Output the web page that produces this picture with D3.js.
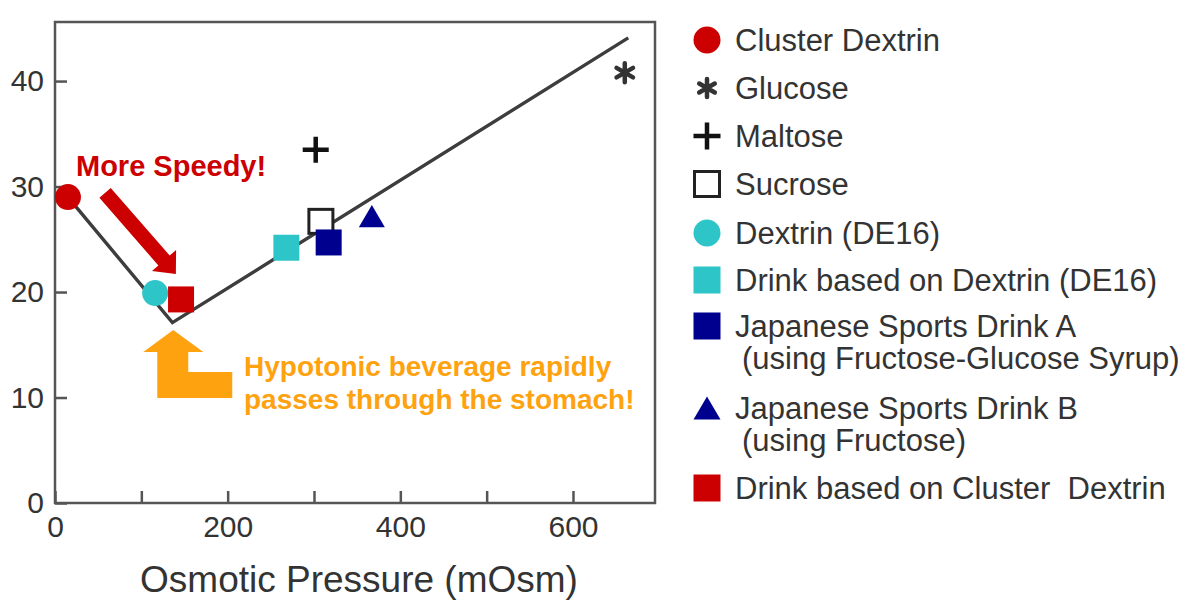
<!DOCTYPE html>
<html lang="en">
<head>
    <meta charset="UTF-8">
    <title>Gastric Emptying vs Osmotic Pressure</title>
    <script src="https://d3js.org/d3.v7.min.js"></script>
    <style>
        body {
            margin: 0;
            background: #fff;
            font-family: "Liberation Sans", Arial, sans-serif;
        }
        .tick text {
            fill: #333;
        }
        .tick line {
            stroke: #555;
            stroke-width: 2.5;
        }
        .legend text {
            white-space: pre;
        }
    </style>
</head>
<body>
    <div id="chart"></div>

    <script>
        // values
        const substances = ["Cluster Dextrin", "Glucose", "Maltose", "Sucrose", "Dextrin (DE16)",
            "Drink based on Dextrin (DE16)", "Japanese Sports Drink A", "Japanese Sports Drink B",
            "Drink based on Cluster  Dextrin"];
        const osmoticPressure = [15, 660, 302, 308, 116, 268, 317, 367, 146];
        const emptyingValue = [29.0, 40.8, 33.5, 26.7, 19.9, 24.2, 24.7, 27.2, 19.3];
        const legendLabels = [["Cluster Dextrin"], ["Glucose"], ["Maltose"], ["Sucrose"], ["Dextrin (DE16)"],
            ["Drink based on Dextrin (DE16)"],
            ["Japanese Sports Drink A", "(using Fructose-Glucose Syrup)"],
            ["Japanese Sports Drink B", "(using Fructose)"],
            ["Drink based on Cluster  Dextrin"]];

        // trend line (V shape)
        const trendX = [15, 136, 664];
        const trendY = [29.0, 17.1, 44.1];

        const xTicks = [0, 100, 200, 300, 400, 500, 600];
        const yTicks = [0, 10, 20, 30, 40];

        const red = "#cc0000", cyan = "#2ec5c8", navy = "#00008f", orange = "#ffa20f";
        const markerStyle = {
            "Cluster Dextrin": { shape: "circle", color: red },
            "Glucose": { shape: "asterisk", color: "#333" },
            "Maltose": { shape: "plus", color: "#111" },
            "Sucrose": { shape: "open", color: "#222" },
            "Dextrin (DE16)": { shape: "circle", color: cyan },
            "Drink based on Dextrin (DE16)": { shape: "square", color: cyan },
            "Japanese Sports Drink A": { shape: "square", color: navy },
            "Japanese Sports Drink B": { shape: "triangle", color: navy },
            "Drink based on Cluster  Dextrin": { shape: "square", color: red }
        };

        const W = 1200, H = 600;
        const svg = d3.select("#chart").append("svg")
            .attr("width", W)
            .attr("height", H);

        const x = d3.scaleLinear().domain([0, 695]).range([55, 655]);
        const y = d3.scaleLinear().domain([0, 45.6]).range([503, 22]);

        // axes, ticks pointing inward
        svg.append("g")
            .attr("transform", `translate(0, ${y(0)})`)
            .call(d3.axisBottom(x).tickValues(xTicks).tickSize(-12).tickSizeOuter(0).tickPadding(13)
                .tickFormat(d => d % 200 === 0 ? d : ""))
            .call(g => g.select(".domain").remove())
            .selectAll("text").style("font-size", "30px");

        svg.append("g")
            .attr("transform", `translate(${x(0)}, 0)`)
            .call(d3.axisLeft(y).tickValues(yTicks).tickSize(-12).tickSizeOuter(0).tickPadding(11))
            .call(g => g.select(".domain").remove())
            .selectAll("text").style("font-size", "30px");

        svg.append("rect")
            .attr("x", x(0)).attr("y", y.range()[1])
            .attr("width", x.range()[1] - x(0))
            .attr("height", y(0) - y.range()[1])
            .attr("fill", "none")
            .attr("stroke", "#555")
            .attr("stroke-width", 2.5);

        svg.append("text")
            .attr("x", 359).attr("y", 592)
            .attr("text-anchor", "middle")
            .style("font-size", "37px")
            .style("fill", "#333")
            .text("Osmotic Pressure (mOsm)");

        // trend line
        svg.append("path")
            .datum(trendX.map((v, i) => [v, trendY[i]]))
            .attr("d", d3.line().x(d => x(d[0])).y(d => y(d[1])))
            .attr("fill", "none")
            .attr("stroke", "#3d3d3d")
            .attr("stroke-width", 3.4);

        function drawMarker(g, shape, color, s) {
            // s = overall size in px
            if (shape === "circle") {
                g.append("circle").attr("r", s / 2).attr("fill", color);
            } else if (shape === "square") {
                g.append("rect").attr("x", -s / 2).attr("y", -s / 2).attr("width", s).attr("height", s).attr("fill", color);
            } else if (shape === "open") {
                const t = s - 2;
                g.append("rect").attr("x", -t / 2).attr("y", -t / 2).attr("width", t).attr("height", t)
                    .attr("fill", "#fff").attr("stroke", color).attr("stroke-width", 3);
            } else if (shape === "triangle") {
                const h = s * 0.85;
                g.append("path").attr("d", `M0,${-h / 2}L${s / 2},${h / 2}L${-s / 2},${h / 2}Z`).attr("fill", color);
            } else if (shape === "plus") {
                g.append("path").attr("d", `M${-s / 2},0H${s / 2}M0,${-s / 2}V${s / 2}`)
                    .attr("stroke", color).attr("stroke-width", 4.5);
            } else if (shape === "asterisk") {
                const r = s / 2 - 2;
                const d = d3.range(3).map(k => {
                    const a = Math.PI / 2 + k * Math.PI / 3;
                    const cx = Math.cos(a) * r, cy = Math.sin(a) * r;
                    return `M${-cx},${-cy}L${cx},${cy}`;
                }).join("");
                g.append("path").attr("d", d)
                    .attr("stroke", color).attr("stroke-width", 4.5).attr("stroke-linecap", "round").attr("fill", "none");
            }
        }

        // draw points
        substances.forEach((name, i) => {
            const st = markerStyle[name];
            const g = svg.append("g").attr("transform", `translate(${x(osmoticPressure[i])}, ${y(emptyingValue[i])})`);
            drawMarker(g, st.shape, st.color, st.shape === "asterisk" ? 23 : 26);
        });

        // "More Speedy!" arrow
        const sp = [x(58), y(29.4)], tp = [x(140), y(21.7)];
        const dx = tp[0] - sp[0], dy = tp[1] - sp[1], len = Math.hypot(dx, dy);
        const ux = dx / len, uy = dy / len, px = -uy, py = ux;
        const sw = 7.5, hw = 16, hl = 18;
        const bx = tp[0] - ux * hl, by = tp[1] - uy * hl;
        const arrowPts = [
            [sp[0] + px * sw, sp[1] + py * sw], [bx + px * sw, by + py * sw], [bx + px * hw, by + py * hw],
            tp, [bx - px * hw, by - py * hw], [bx - px * sw, by - py * sw], [sp[0] - px * sw, sp[1] - py * sw]
        ];
        svg.append("polygon").attr("points", arrowPts.map(p => p.join(",")).join(" ")).attr("fill", red);

        svg.append("text")
            .attr("x", 76).attr("y", 176)
            .style("font-size", "29px").style("font-weight", "bold").style("fill", red)
            .text("More Speedy!");

        // hypotonic L-arrow
        const ot = [x(137), y(16.4)];
        const lShape = [[0, 0], [30, 22], [15, 22], [15, 42], [59, 42], [59, 68], [-16, 68], [-16, 22], [-30, 22]];
        svg.append("polygon")
            .attr("points", lShape.map(p => [ot[0] + p[0], ot[1] + p[1]].join(",")).join(" "))
            .attr("fill", orange);

        svg.append("text")
            .attr("x", 244).attr("y", 376)
            .style("font-size", "28px").style("font-weight", "bold").style("fill", orange)
            .selectAll("tspan")
            .data(["Hypotonic beverage rapidly", "passes through the stomach!"])
            .join("tspan")
            .attr("x", 244)
            .attr("dy", (d, i) => i === 0 ? 0 : 33)
            .text(d => d);

        // legend
        const legendRowY = [40, 88, 136, 184, 233, 280, 326, 408, 488];
        const legend = svg.append("g").attr("class", "legend");
        substances.forEach((name, i) => {
            const st = markerStyle[name];
            const g = legend.append("g").attr("transform", `translate(707, ${legendRowY[i]})`);
            drawMarker(g, st.shape, st.color, st.shape === "asterisk" ? 22 : 27);
            legendLabels[i].forEach((line, j) => {
                legend.append("text")
                    .attr("x", j === 0 ? 735 : 742)
                    .attr("y", legendRowY[i] + 11 + j * 32)
                    .style("font-size", "31px")
                    .style("fill", "#333")
                    .text(line);
            });
        });
    </script>
</body>
</html>
